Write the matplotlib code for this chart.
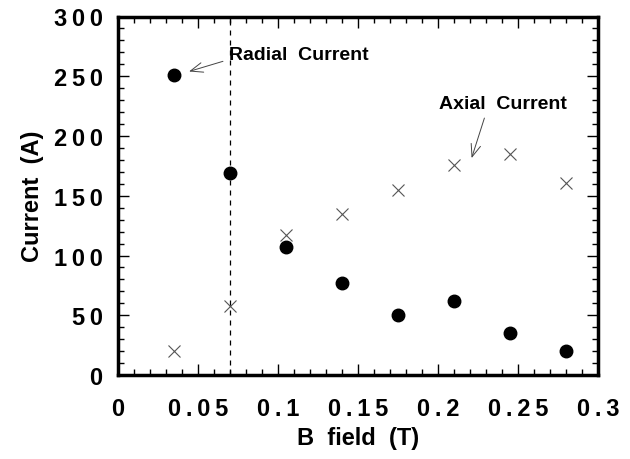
import matplotlib
matplotlib.use("Agg")
import matplotlib.pyplot as plt
from matplotlib.ticker import MultipleLocator, FuncFormatter

plt.rcParams['font.family'] = ['Liberation Sans', 'DejaVu Sans']
plt.rcParams['font.weight'] = 'bold'

# data
b_field = [0.035, 0.07, 0.105, 0.14, 0.175, 0.21, 0.245, 0.28]
radial = [251, 169, 107, 77, 50, 62, 35, 20]
axial = [20, 58, 117, 135, 155, 176, 185, 161]
cutoff = 0.07


def spaced(v, pos):
    # the original tick labels are letter-spaced
    return "\u2009".join("%g" % v)


fig = plt.figure(figsize=(6.3, 4.6), dpi=100)
ax = fig.add_axes([118/630, 84/460, 480/630, 358.5/460])

ax.plot(b_field, radial, "o", color="black", markersize=9, linestyle="none")
ax.plot(b_field, axial, "x", color="#555555", markersize=8, markeredgewidth=0.8, linestyle="none")
ax.axvline(cutoff, color="black", linestyle=(0, (4, 4)), linewidth=0.9)

arrow = dict(arrowstyle="->,head_length=0.9,head_width=0.35", color="#444444", lw=0.7,
             mutation_scale=10, shrinkA=0, shrinkB=0)
ax.text(0.0694, 268.5, "Radial  Current", fontsize=14, fontweight="bold", va="center", ha="left")
ax.annotate("", xy=(0.0444, 254), xytext=(0.0656, 262.5), arrowprops=arrow)
ax.text(0.2006, 227.5, "Axial  Current", fontsize=14, fontweight="bold", va="center", ha="left")
ax.annotate("", xy=(0.221, 181.5), xytext=(0.229, 215), arrowprops=arrow)

ax.set_xlim(0, 0.3)
ax.set_ylim(0, 300)
ax.xaxis.set_major_locator(MultipleLocator(0.05))
ax.xaxis.set_minor_locator(MultipleLocator(0.01))
ax.yaxis.set_major_locator(MultipleLocator(50))
ax.yaxis.set_minor_locator(MultipleLocator(10))
ax.xaxis.set_major_formatter(FuncFormatter(spaced))
ax.yaxis.set_major_formatter(FuncFormatter(spaced))
ax.tick_params(which="both", direction="in", top=True, right=True, width=1)
ax.tick_params(which="major", length=8, labelsize=17)
ax.tick_params(axis="x", which="major", pad=16)
ax.tick_params(axis="y", which="major", pad=11)
ax.tick_params(which="minor", length=4)
for s in ax.spines.values():
    s.set_linewidth(2.5)

ax.set_xlabel("B  field  (T)", fontsize=17, fontweight="bold", labelpad=4)
ax.set_ylabel("Current  (A)", fontsize=17, fontweight="bold", labelpad=7)

plt.savefig("out.png", dpi=100)
